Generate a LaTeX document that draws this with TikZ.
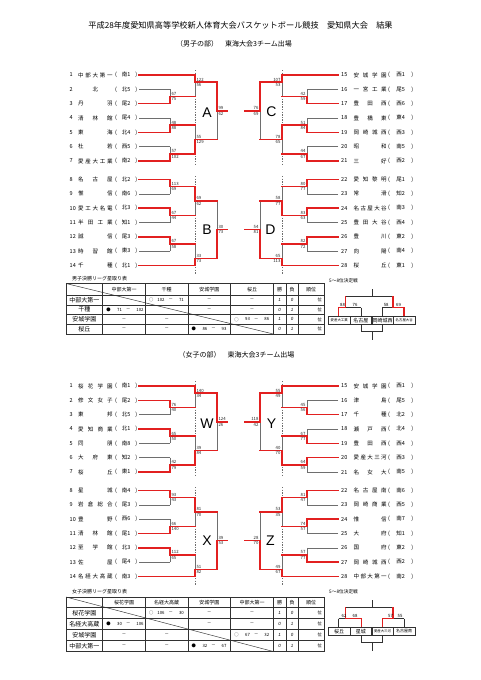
\documentclass[tikz,border=0pt]{standalone}
\usepackage{fontspec}
\setmainfont{Noto Sans CJK JP}
\newfontfamily\latf{Liberation Sans}
\pgfdeclarelayer{bg}
\pgfsetlayers{bg,main}
\definecolor{rd}{RGB}{226,32,32}
\definecolor{gy}{RGB}{110,110,110}
\definecolor{tb}{RGB}{50,50,50}
\newcount\nc
\tikzset{
  gl/.style={draw=gy,line width=0.6pt},
  rl/.style={draw=rd,line width=1.6pt,line cap=rect},
  dl/.style={draw=gy,line width=0.5pt,dash pattern=on 1.3pt off 1.3pt},
  sc/.style={font=\fontsize{4.3}{4.3}\selectfont,inner sep=0pt,text=black!85},
  sctop/.style={sc,anchor=south west,xshift=1.3pt,yshift=0.9pt},
  scbot/.style={sc,anchor=north west,xshift=1.3pt,yshift=-0.9pt},
  tm/.style={font=\fontsize{5.5}{5.5}\selectfont,inner sep=0pt,anchor=west},
  grp/.style={font=\latf\fontsize{14}{14}\selectfont,inner sep=0pt},
  tbl/.style={draw=tb,line width=0.45pt},
  tbo/.style={draw=tb,line width=0.8pt},
  tx/.style={inner sep=0pt,font=\fontsize{5}{5}\selectfont},
  rx/.style={inner sep=0pt,font=\fontsize{6}{6}\selectfont},
  wl/.style={inner sep=0pt,font=\latf\itshape\fontsize{4.5}{4.5}\selectfont},
  rs/.style={inner sep=0pt,font=\fontsize{4.3}{4.3}\selectfont},
  bx/.style={draw=tb,line width=0.5pt,inner sep=0pt,minimum width=21.7pt,minimum height=8.5pt},
  ml/.style={draw=tb,line width=0.6pt},
  mr/.style={draw=rd,line width=1.3pt,line cap=rect},
}
% match: x y1 y2 ym xout winner(t/b) score1 score2
\newcommand\M[8]{%
  \begin{pgfonlayer}{bg}\draw[gl] (#1,#2) -- (#1,#3) (#1,#4) -- (#5,#4);\end{pgfonlayer}
  \if#6t\draw[rl] (#1,#2) -- (#1,#4) -- (#5,#4);\else\draw[rl] (#1,#3) -- (#1,#4) -- (#5,#4);\fi
  \global\advance\nc by 1
  \node[sctop] (s\the\nc) at (#1,#4) {#7};
  \node[scbot] (t\the\nc) at (#1,#4) {#8};
}
\newcommand\TLL[3]{\ifx r#3\draw[rl] (139,#1) -- (#2,#1);\else\begin{pgfonlayer}{bg}\draw[gl] (139,#1) -- (#2,#1);\end{pgfonlayer}\fi}
\newcommand\TLR[3]{\ifx r#3\draw[rl] (338,#1) -- (#2,#1);\else\begin{pgfonlayer}{bg}\draw[gl] (338,#1) -- (#2,#1);\end{pgfonlayer}\fi}
\newcommand\TnL[4]{%
  \node[tm] (\gp a#2) at (69.5,#1) {#2};
  \node[tm] (\gp b#2) at (78,#1) {\hbox to 34.5pt{#3}};
  \node[tm] (\gp c#2) at (115,#1) {\hbox to 22pt{(\hfill #4\hfill )}};}
\newcommand\TnR[4]{%
  \node[tm] (\gp a#2) at (341,#1) {#2};
  \node[tm] (\gp b#2) at (353.5,#1) {\hbox to 33pt{#3}};
  \node[tm] (\gp c#2) at (388,#1) {\hbox to 25pt{(\hfill #4\hfill )}};}
\newcommand\RC[5]{%
  \global\advance\nc by 1
  \node[rs,anchor=west] (ra\the\nc) at (#1+3.5,#2) {#3};
  \node[rs,anchor=east] (rb\the\nc) at (#1+19.5,#2) {#4};
  \node[rs] (rc\the\nc) at (#1+25.5,#2) {－};
  \node[rs,anchor=west] (rd\the\nc) at (#1+33.5,#2) {#5};}
\newcommand\DC[2]{\global\advance\nc by 1 \node[rs] (dc\the\nc) at (#1,#2) {－};}
\newcommand\Tbl[3]{%
  \draw[tbl] (66,#2) -- (324,#2) (66,{#2+#3}) -- (324,{#2+#3}) (66,{#2+2*#3}) -- (324,{#2+2*#3}) (66,{#2+3*#3}) -- (324,{#2+3*#3});
  \foreach \xx in {102.7,145.3,188,230.7,273.3,286,298} \draw[tbl] (\xx,#1) -- (\xx,{#2+4*#3});
  \draw[tbl] (66,#1) -- (273.3,{#2+4*#3});
  \draw[tbo] (66,#1) rectangle (324,{#2+4*#3});}
\newcommand\MiniLines{%
  \draw[ml] (372,289.3) -- (372,296.7) (345.3,296.7) -- (393,296.7)
    (345.3,296.7) -- (345.3,307.7) (338.5,307.7) -- (361.3,307.7) (338.5,307.7) -- (338.5,316) (361.3,307.7) -- (361.3,316)
    (393,296.7) -- (393,307.7) (382.2,307.7) -- (403.9,307.7) (382.2,307.7) -- (382.2,316) (403.9,307.7) -- (403.9,316);
  \draw[ml] (361.3,324.5) -- (361.3,331) -- (382.2,331) -- (382.2,324.5) (372,331) -- (372,339.5);}
\begin{document}
\begin{tikzpicture}[x=1pt,y=-1pt]
\useasboundingbox (0,0) rectangle (481,680);
\begin{pgfonlayer}{bg}\fill[white] (0,0) rectangle (481,680);\end{pgfonlayer}
\node[inner sep=0pt,font=\fontsize{8.2}{8.2}\selectfont] (title) at (240.5,25) {平成28年度愛知県高等学校新人体育大会バスケットボール競技　愛知県大会　結果};
\node[inner sep=0pt,font=\fontsize{7}{7}\selectfont] (msub) at (234,43.5) {（男子の部）　東海大会3チーム出場};
\node[inner sep=0pt,font=\fontsize{7}{7}\selectfont] (fsub) at (236.5,354.5) {（女子の部）　東海大会3チーム出場};

% ================= MALE =================
\def\gp{m}
\begin{pgfonlayer}{bg}
\draw[dl] (195,70) -- (195,165) (195,176) -- (195,274) (282,70) -- (282,165) (282,176) -- (282,274);
\end{pgfonlayer}
\node[grp] (gA) at (207,113) {A};
\node[grp] (gB) at (207,230) {B};
\node[grp] (gC) at (271.5,112) {C};
\node[grp] (gD) at (270.5,230) {D};
\TnL{75}{1}{中\hfill 部\hfill 大\hfill 第\hfill 一}{南1}
\TnL{89.33}{2}{\hfill 北\hfill }{北5}
\TnL{103.67}{3}{丹\hfill 羽}{尾2}
\TnL{118}{4}{清\hfill 林\hfill 館}{尾4}
\TnL{132.33}{5}{東\hfill 海}{北4}
\TnL{146.67}{6}{杜\hfill 若}{西5}
\TnL{161}{7}{愛\hfill 産\hfill 大\hfill 工\hfill 業}{南2}
\TnL{179.5}{8}{名\hfill 古\hfill 屋}{北2}
\TnL{193.83}{9}{惟\hfill 信}{南6}
\TnL{208.17}{10}{愛\hfill 工\hfill 大\hfill 名\hfill 電}{北3}
\TnL{222.5}{11}{半\hfill 田\hfill 工\hfill 業}{知1}
\TnL{236.83}{12}{誠\hfill 信}{尾3}
\TnL{251.17}{13}{時\hfill 習\hfill 館}{東3}
\TnL{265.5}{14}{千\hfill 種}{北1}
\TnR{75}{15}{安\hfill 城\hfill 学\hfill 園}{西1}
\TnR{89.33}{16}{一\hfill 宮\hfill 工\hfill 業}{尾5}
\TnR{103.67}{17}{豊\hfill 田\hfill 西}{西6}
\TnR{118}{18}{豊\hfill 橋\hfill 東}{東4}
\TnR{132.33}{19}{岡\hfill 崎\hfill 城\hfill 西}{西3}
\TnR{146.67}{20}{昭\hfill 和}{南5}
\TnR{161}{21}{三\hfill 好}{西2}
\TnR{179.5}{22}{愛\hfill 知\hfill 黎\hfill 明}{尾1}
\TnR{193.83}{23}{常\hfill 滑}{知2}
\TnR{208.17}{24}{名\hfill 古\hfill 屋\hfill 大\hfill 谷}{南3}
\TnR{222.5}{25}{豊\hfill 田\hfill 大\hfill 谷}{西4}
\TnR{236.83}{26}{豊\hfill 川}{東2}
\TnR{251.17}{27}{向\hfill 陽}{南4}
\TnR{265.5}{28}{桜\hfill 丘}{東1}
% A
\TLL{75}{195}{r}\TLL{89.33}{170}{g}\TLL{103.67}{170}{r}\TLL{118}{170}{g}\TLL{132.33}{170}{r}\TLL{146.67}{170}{g}\TLL{161}{170}{r}
\M{170}{89.33}{103.67}{96.5}{195}{b}{67}{75}
\M{195}{75}{96.5}{82.17}{217}{t}{122}{56}
\M{170}{118}{132.33}{125.17}{195}{b}{48}{88}
\M{170}{146.67}{161}{153.83}{195}{b}{57}{102}
\M{195}{125.17}{153.83}{139.5}{217}{b}{55}{129}
\M{217}{82.17}{139.5}{110.83}{227}{t}{99}{62}
% B
\TLL{179.5}{170}{r}\TLL{193.83}{170}{g}\TLL{208.17}{170}{r}\TLL{222.5}{170}{g}\TLL{236.83}{170}{r}\TLL{251.17}{170}{g}\TLL{265.5}{195}{r}
\M{170}{179.5}{193.83}{186.67}{195}{t}{113}{69}
\M{170}{208.17}{222.5}{215.33}{195}{t}{67}{44}
\M{195}{186.67}{215.33}{201}{217}{t}{69}{62}
\M{170}{236.83}{251.17}{244}{195}{t}{67}{58}
\M{195}{244}{265.5}{258.33}{217}{b}{33}{73}
\M{217}{201}{258.33}{229.67}{227}{b}{30}{73}
\begin{scope}[sctop/.style={sc,anchor=south east,xshift=-1.3pt,yshift=0.9pt},scbot/.style={sc,anchor=north east,xshift=-1.3pt,yshift=-0.9pt}]
% C
\TLR{75}{282}{r}\TLR{89.33}{307}{g}\TLR{103.67}{307}{r}\TLR{118}{307}{g}\TLR{132.33}{307}{r}\TLR{146.67}{307}{g}\TLR{161}{307}{r}
\M{307}{89.33}{103.67}{96.5}{282}{b}{42}{59}
\M{282}{75}{96.5}{82.17}{260}{t}{107}{53}
\M{307}{118}{132.33}{125.17}{282}{b}{51}{84}
\M{307}{146.67}{161}{153.83}{282}{b}{44}{67}
\M{282}{125.17}{153.83}{139.5}{260}{t}{78}{65}
\M{260}{82.17}{139.5}{110.83}{245}{t}{76}{69}
% D
\TLR{179.5}{307}{r}\TLR{193.83}{307}{g}\TLR{208.17}{307}{r}\TLR{222.5}{307}{g}\TLR{236.83}{307}{r}\TLR{251.17}{307}{g}\TLR{265.5}{282}{r}
\M{307}{179.5}{193.83}{186.67}{282}{t}{80}{77}
\M{307}{208.17}{222.5}{215.33}{282}{t}{83}{63}
\M{282}{186.67}{215.33}{201}{260}{b}{58}{77}
\M{307}{236.83}{251.17}{244}{282}{t}{82}{72}
\M{282}{244}{265.5}{258.33}{260}{b}{65}{113}
\M{260}{201}{258.33}{229.67}{245}{b}{54}{81}
\end{scope}

% male table
\node[inner sep=0pt,anchor=west,font=\fontsize{5}{5}\selectfont] (mtt) at (72,279) {男子決勝リーグ星取り表};
\Tbl{283.5}{295}{9.75}
\node[tx] (mh2) at (124,289.25) {中部大第一};
\node[tx] (mh3) at (166.65,289.25) {千種};
\node[tx] (mh4) at (209.35,289.25) {安城学園};
\node[tx] (mh5) at (252,289.25) {桜丘};
\node[tx] (mh6) at (279.65,289.25) {勝};
\node[tx] (mh7) at (292,289.25) {負};
\node[tx] (mh8) at (311,289.25) {順位};
\node[rx] (mr1) at (84.35,299.9) {中部大第一};
\node[rx] (mr2) at (84.35,309.6) {千種};
\node[rx] (mr3) at (84.35,319.4) {安城学園};
\node[rx] (mr4) at (84.35,329.1) {桜丘};
\RC{145.3}{299.9}{○}{102}{71}\DC{209.35}{299.9}\DC{252}{299.9}
\RC{102.7}{309.6}{●}{71}{102}\DC{209.35}{309.6}\DC{252}{309.6}
\DC{124}{319.4}\DC{166.65}{319.4}\RC{230.7}{319.4}{○}{93}{86}
\DC{124}{329.1}\DC{166.65}{329.1}\RC{188}{329.1}{●}{86}{93}
\node[wl] (mw1) at (279.65,299.9) {1};\node[wl] (ml1) at (292,299.9) {0};
\node[wl] (mw2) at (279.65,309.6) {0};\node[wl] (ml2) at (292,309.6) {1};
\node[wl] (mw3) at (279.65,319.4) {1};\node[wl] (ml3) at (292,319.4) {0};
\node[wl] (mw4) at (279.65,329.1) {0};\node[wl] (ml4) at (292,329.1) {1};
\foreach \yy [count=\k] in {299.9,309.6,319.4,329.1} \node[rs,anchor=east] (mp\k) at (322,\yy) {位};

% male 5-8
\node[inner sep=0pt,anchor=west,font=\fontsize{4.7}{4.7}\selectfont] (m58) at (329,281) {5～8位決定戦};
\MiniLines
\draw[mr] (338.5,316) -- (338.5,307.7) -- (345.3,307.7) -- (345.3,296.7);
\draw[mr] (403.9,316) -- (403.9,307.7) -- (393,307.7) -- (393,296.7);
\node[bx] (mb1) at (339.2,320.25) {\fontsize{3.4}{3.4}\selectfont 愛産大工業};
\node[bx] (mb2) at (360.9,320.25) {\fontsize{5}{5}\selectfont 名古屋};
\node[bx] (mb3) at (382.5,320.25) {\fontsize{5}{5}\selectfont 岡崎城西};
\node[bx] (mb4) at (404.2,320.25) {\fontsize{3.4}{3.4}\selectfont 名古屋大谷};
\node[rs,anchor=south west] (ms1) at (340,306.7) {88};
\node[rs,anchor=south west] (ms2) at (352.5,306.7) {76};
\node[rs,anchor=south west] (ms3) at (383.6,306.7) {58};
\node[rs,anchor=south west] (ms4) at (396,306.7) {69};

% ================= FEMALE =================
\def\gp{f}
\begin{scope}[yshift=-311pt]
\begin{pgfonlayer}{bg}
\draw[dl] (195,70) -- (195,165) (195,176) -- (195,274) (282,70) -- (282,165) (282,176) -- (282,274);
\end{pgfonlayer}
\node[grp] (gW) at (207,113) {W};
\node[grp] (gX) at (207,230) {X};
\node[grp] (gY) at (271.5,113) {Y};
\node[grp] (gZ) at (270.5,230) {Z};
\TnL{75}{1}{桜\hfill 花\hfill 学\hfill 園}{南1}
\TnL{89.33}{2}{修\hfill 文\hfill 女\hfill 子}{尾2}
\TnL{103.67}{3}{東\hfill 邦}{北5}
\TnL{118}{4}{愛\hfill 知\hfill 商\hfill 業}{北1}
\TnL{132.33}{5}{同\hfill 朋}{南8}
\TnL{146.67}{6}{大\hfill 府\hfill 東}{知2}
\TnL{161}{7}{桜\hfill 丘}{東1}
\TnL{179.5}{8}{星\hfill 城}{南4}
\TnL{193.83}{9}{岩\hfill 倉\hfill 総\hfill 合}{尾3}
\TnL{208.17}{10}{豊\hfill 野}{西6}
\TnL{222.5}{11}{清\hfill 林\hfill 館}{尾1}
\TnL{236.83}{12}{至\hfill 学\hfill 館}{北3}
\TnL{251.17}{13}{佐\hfill 屋}{尾4}
\TnL{265.5}{14}{名\hfill 経\hfill 大\hfill 高\hfill 蔵}{南3}
\TnR{75}{15}{安\hfill 城\hfill 学\hfill 園}{西1}
\TnR{89.33}{16}{津\hfill 島}{尾5}
\TnR{103.67}{17}{千\hfill 種}{北2}
\TnR{118}{18}{瀬\hfill 戸\hfill 西}{北4}
\TnR{132.33}{19}{豊\hfill 田\hfill 西}{西4}
\TnR{146.67}{20}{愛\hfill 産\hfill 大\hfill 三\hfill 河}{西3}
\TnR{161}{21}{名\hfill 女\hfill 大}{南5}
\TnR{179.5}{22}{名\hfill 古\hfill 屋\hfill 南}{南6}
\TnR{193.83}{23}{岡\hfill 崎\hfill 商\hfill 業}{西5}
\TnR{208.17}{24}{惟\hfill 信}{南7}
\TnR{222.5}{25}{大\hfill 府}{知1}
\TnR{236.83}{26}{国\hfill 府}{東2}
\TnR{251.17}{27}{岡\hfill 崎\hfill 城\hfill 西}{西2}
\TnR{265.5}{28}{中\hfill 部\hfill 大\hfill 第\hfill 一}{南2}
% W
\TLL{75}{195}{r}\TLL{89.33}{170}{r}\TLL{103.67}{170}{g}\TLL{118}{170}{r}\TLL{132.33}{170}{g}\TLL{146.67}{170}{g}\TLL{161}{170}{r}
\M{170}{89.33}{103.67}{96.5}{195}{t}{76}{40}
\M{195}{75}{96.5}{82.17}{217}{t}{140}{34}
\M{170}{118}{132.33}{125.17}{195}{t}{65}{50}
\M{170}{146.67}{161}{153.83}{195}{b}{42}{79}
\M{195}{125.17}{153.83}{139.5}{217}{b}{39}{84}
\M{217}{82.17}{139.5}{110.83}{227}{t}{124}{26}
% X
\TLL{179.5}{170}{r}\TLL{193.83}{170}{g}\TLL{208.17}{170}{g}\TLL{222.5}{170}{r}\TLL{236.83}{170}{r}\TLL{251.17}{170}{g}\TLL{265.5}{195}{r}
\M{170}{179.5}{193.83}{186.67}{195}{t}{93}{43}
\M{170}{208.17}{222.5}{215.33}{195}{b}{66}{140}
\M{195}{186.67}{215.33}{201}{217}{t}{81}{70}
\M{170}{236.83}{251.17}{244}{195}{t}{112}{65}
\M{195}{244}{265.5}{258.33}{217}{b}{51}{82}
\M{217}{201}{258.33}{229.67}{227}{b}{39}{53}
\begin{scope}[sctop/.style={sc,anchor=south east,xshift=-1.3pt,yshift=0.9pt},scbot/.style={sc,anchor=north east,xshift=-1.3pt,yshift=-0.9pt}]
% Y
\TLR{75}{282}{r}\TLR{89.33}{307}{g}\TLR{103.67}{307}{r}\TLR{118}{307}{g}\TLR{132.33}{307}{r}\TLR{146.67}{307}{r}\TLR{161}{307}{g}
\M{307}{89.33}{103.67}{96.5}{282}{b}{45}{56}
\M{282}{75}{96.5}{82.17}{260}{t}{55}{49}
\M{307}{118}{132.33}{125.17}{282}{b}{67}{77}
\M{307}{146.67}{161}{153.83}{282}{t}{64}{59}
\M{282}{125.17}{153.83}{139.5}{260}{b}{40}{70}
\M{260}{82.17}{139.5}{110.83}{245}{t}{118}{42}
% Z
\TLR{179.5}{307}{r}\TLR{193.83}{307}{g}\TLR{208.17}{307}{r}\TLR{222.5}{307}{g}\TLR{236.83}{307}{g}\TLR{251.17}{307}{r}\TLR{265.5}{282}{r}
\M{307}{179.5}{193.83}{186.67}{282}{t}{81}{47}
\M{307}{208.17}{222.5}{215.33}{282}{t}{74}{57}
\M{282}{186.67}{215.33}{201}{260}{t}{53}{35}
\M{307}{236.83}{251.17}{244}{282}{b}{57}{77}
\M{282}{244}{265.5}{258.33}{260}{b}{49}{67}
\M{260}{201}{258.33}{229.67}{245}{b}{28}{70}
\end{scope}
\end{scope}

% female table
\node[inner sep=0pt,anchor=west,font=\fontsize{5}{5}\selectfont] (ftt) at (72,592) {女子決勝リーグ星取り表};
\Tbl{597}{607.5}{11}
\node[tx] (fh2) at (124,602.25) {桜花学園};
\node[tx] (fh3) at (166.65,602.25) {名経大高蔵};
\node[tx] (fh4) at (209.35,602.25) {安城学園};
\node[tx] (fh5) at (252,602.25) {中部大第一};
\node[tx] (fh6) at (279.65,602.25) {勝};
\node[tx] (fh7) at (292,602.25) {負};
\node[tx] (fh8) at (311,602.25) {順位};
\node[rx] (fr1) at (84.35,613) {桜花学園};
\node[rx] (fr2) at (84.35,624) {名経大高蔵};
\node[rx] (fr3) at (84.35,635) {安城学園};
\node[rx] (fr4) at (84.35,646) {中部大第一};
\RC{145.3}{613}{○}{106}{30}\DC{209.35}{613}\DC{252}{613}
\RC{102.7}{624}{●}{30}{106}\DC{209.35}{624}\DC{252}{624}
\DC{124}{635}\DC{166.65}{635}\RC{230.7}{635}{○}{67}{32}
\DC{124}{646}\DC{166.65}{646}\RC{188}{646}{●}{32}{67}
\node[wl] (fw1) at (279.65,613) {1};\node[wl] (fl1) at (292,613) {0};
\node[wl] (fw2) at (279.65,624) {0};\node[wl] (fl2) at (292,624) {1};
\node[wl] (fw3) at (279.65,635) {1};\node[wl] (fl3) at (292,635) {0};
\node[wl] (fw4) at (279.65,646) {0};\node[wl] (fl4) at (292,646) {1};
\foreach \yy [count=\k] in {613,624,635,646} \node[rs,anchor=east] (fp\k) at (322,\yy) {位};

% female 5-8
\begin{scope}[yshift=-311pt]
\node[inner sep=0pt,anchor=west,font=\fontsize{4.7}{4.7}\selectfont] (f58) at (329,281) {5～8位決定戦};
\MiniLines
\draw[mr] (361.3,316) -- (361.3,307.7) -- (345.3,307.7) -- (345.3,296.7);
\draw[mr] (382.2,316) -- (382.2,307.7) -- (393,307.7) -- (393,296.7);
\node[bx] (fb1) at (339.2,320.25) {\fontsize{5}{5}\selectfont 桜丘};
\node[bx] (fb2) at (360.9,320.25) {\fontsize{5}{5}\selectfont 星城};
\node[bx] (fb3) at (382.5,320.25) {\fontsize{3.4}{3.4}\selectfont 愛産大三河};
\node[bx] (fb4) at (404.2,320.25) {\fontsize{4}{4}\selectfont 名古屋南};
\node[rs,anchor=south west] (fs1) at (341.5,306.7) {62};
\node[rs,anchor=south west] (fs2) at (352.5,306.7) {68};
\node[rs,anchor=south west] (fs3) at (388,306.7) {57};
\node[rs,anchor=south west] (fs4) at (397.5,306.7) {55};
\end{scope}
\end{tikzpicture}
\end{document}
